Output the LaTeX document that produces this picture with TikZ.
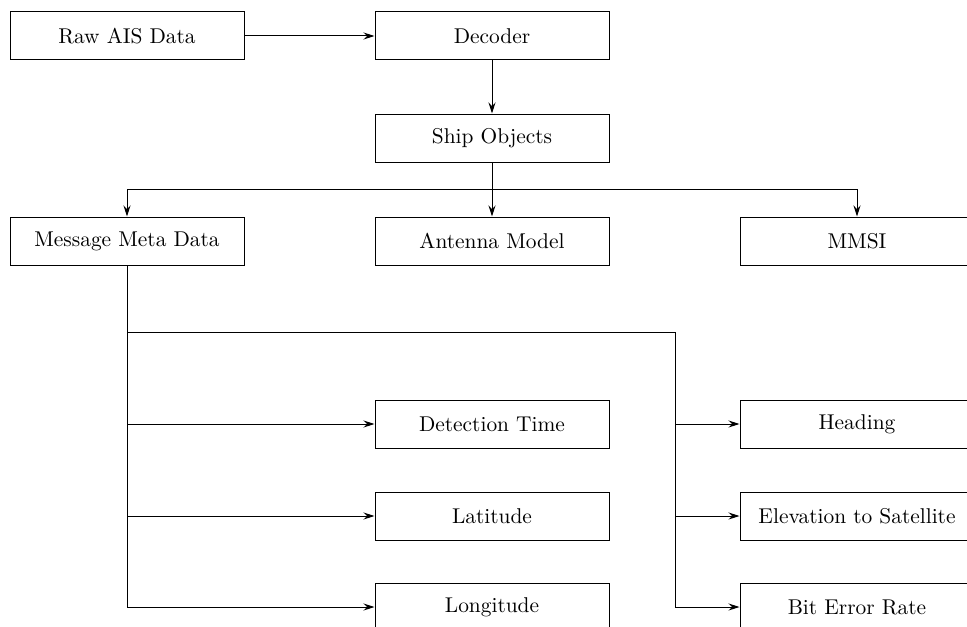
\documentclass[tikz,border=0pt]{standalone}
\usetikzlibrary{arrows.meta}
\begin{document}
\begin{tikzpicture}[x=0.5pt,y=-0.5pt,
  box/.style={draw,line width=0.5pt,minimum width=117pt,minimum height=24pt,inner sep=0pt,font=\fontsize{10.7}{12.8}\selectfont},
  conn/.style={line width=0.5pt},
  arr/.style={conn,-{Stealth[length=5.5pt,width=3.5pt,inset=1.8pt]}}]
\useasboundingbox (0,0) rectangle (967,626);
\node[box] (raw) at (127,36) {Raw AIS Data};
\node[box] (dec) at (492,36) {Decoder};
\node[box] (ship) at (492,138) {Ship Objects};
\node[box] (mmd) at (127,241) {Message Meta Data};
\node[box] (ant) at (492,241) {Antenna Model};
\node[box] (mmsi) at (857,241) {MMSI};
\node[box] (dt) at (492,424) {Detection Time};
\node[box] (lat) at (492,516) {Latitude};
\node[box] (lon) at (492,607) {Longitude};
\node[box] (head) at (857,424) {Heading};
\node[box] (elev) at (857,516) {Elevation to Satellite};
\node[box] (ber) at (857,607) {Bit Error Rate};
\coordinate (bus) at (492,189);
\coordinate (split) at (675,332);
\draw[arr] (raw) -- (dec);
\draw[arr] (dec) -- (ship);
\draw[conn] (ship.south) -- (bus);
\draw[arr] (bus) -| (mmd.north);
\draw[arr] (bus) -- (ant.north);
\draw[arr] (bus) -| (mmsi.north);
\draw[arr] (mmd.south) |- (lon.west);
\draw[arr] (mmd.south |- dt.west) -- (dt.west);
\draw[arr] (mmd.south |- lat.west) -- (lat.west);
\draw[conn] (mmd.south |- split) -- (split);
\draw[arr] (split) |- (ber.west);
\draw[arr] (split |- head.west) -- (head.west);
\draw[arr] (split |- elev.west) -- (elev.west);
\end{tikzpicture}
\end{document}
